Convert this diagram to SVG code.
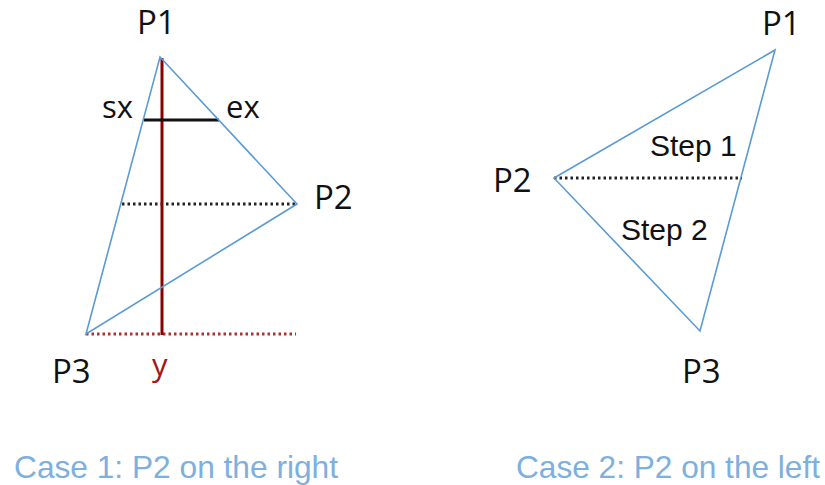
<svg xmlns="http://www.w3.org/2000/svg" width="825" height="485" viewBox="0 0 825 485">
<style>
.tri{fill:none;stroke:#5B9BD5;stroke-width:1.6;stroke-linejoin:miter}
.lbl{font-family:"Open Sans","Liberation Sans",sans-serif;font-size:33px;fill:#111}
.sm{font-family:"Open Sans","Liberation Sans",sans-serif;font-size:31px;fill:#111}
.step{font-family:"Liberation Sans",Arial,sans-serif;font-size:30px;fill:#111}
.cap{font-family:"Liberation Sans",Arial,sans-serif;font-size:32px;fill:#7DB0DE}
.dot{stroke:#222;stroke-width:2.8;stroke-dasharray:2.5 3;fill:none}
.rdot{stroke:#B03030;stroke-width:2.8;stroke-dasharray:2.5 3;fill:none}
</style>
<rect width="825" height="485" fill="#fff"/>
<g id="connectors">
<line class="dot" x1="122" y1="204" x2="297" y2="204"/>
<line class="rdot" x1="86" y1="334" x2="296" y2="334"/>
<line x1="162" y1="58" x2="162" y2="335" stroke="#8B0000" stroke-width="3"/>
<line x1="144" y1="120" x2="219" y2="120" stroke="#111" stroke-width="3"/>
<line class="dot" x1="554" y1="178" x2="742" y2="178"/>
</g>
<g id="case1">
<polygon class="tri" points="160,57 297,204 86,334"/>
<text class="lbl" x="137" y="34">P1</text>
<text class="sm" x="102" y="118">sx</text>
<text class="sm" x="226" y="118">ex</text>
<text class="lbl" x="314" y="209">P2</text>
<text class="lbl" x="52" y="383">P3</text>
<text class="sm" x="152" y="376" style="fill:#A01818">y</text>
<text class="cap" x="14" y="478" textLength="324" lengthAdjust="spacingAndGlyphs">Case 1: P2 on the right</text>
</g>
<g id="case2">
<polygon class="tri" points="775,50 554,178 700,331"/>
<text class="lbl" x="762" y="35">P1</text>
<text class="lbl" x="493" y="192">P2</text>
<text class="lbl" x="682" y="383">P3</text>
<text class="step" x="650" y="156">Step 1</text>
<text class="step" x="621" y="240">Step 2</text>
<text class="cap" x="516" y="478" textLength="304" lengthAdjust="spacingAndGlyphs">Case 2: P2 on the left</text>
</g>
</svg>
